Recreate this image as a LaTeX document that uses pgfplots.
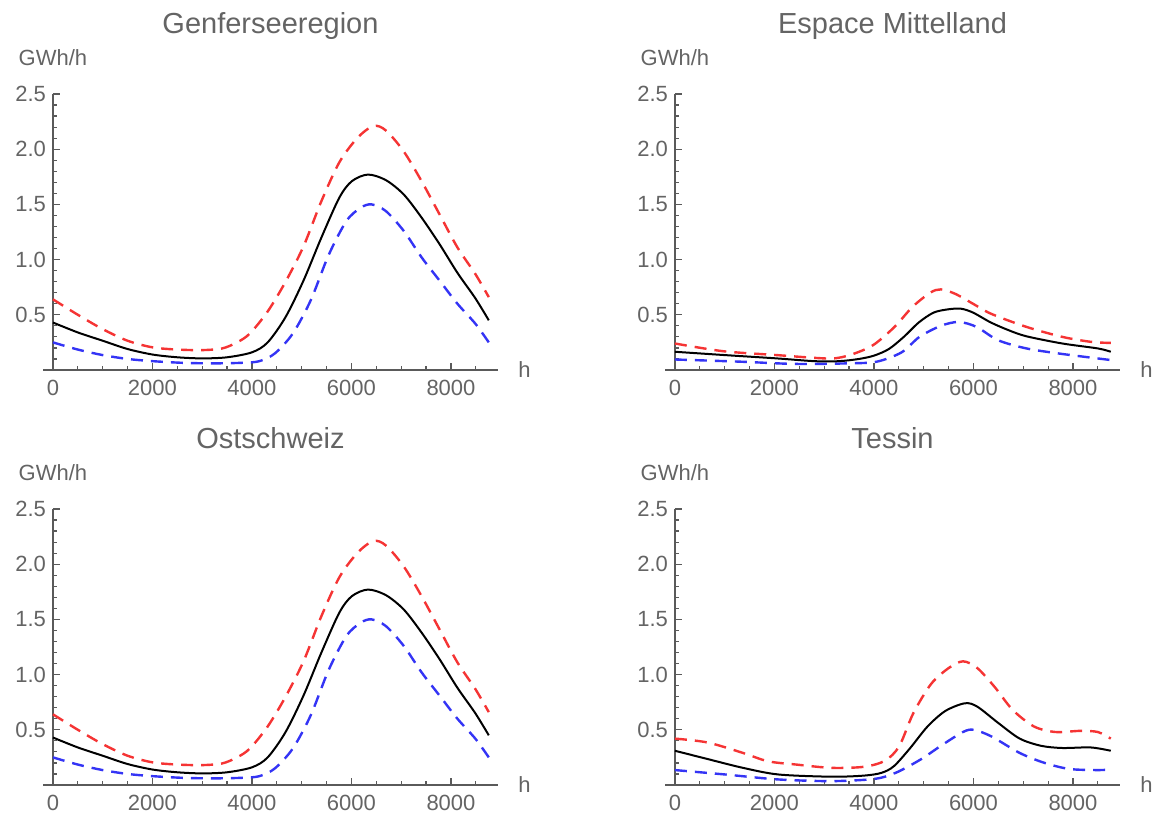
\documentclass[border=0pt]{standalone}
\usepackage{fontspec}
\setmainfont{Liberation Sans}
\usepackage{pgfplots}
\usepackage{pgfplotstable}
\pgfplotsset{compat=1.18}

\definecolor{txt}{HTML}{646464}
\definecolor{axln}{HTML}{5A5A5A}
\definecolor{cred}{HTML}{F53434}
\definecolor{cblue}{HTML}{3434F5}

% Genferseeregion (Ostschweiz looks the same)
\pgfplotstableread{
h v
0 0.43
500 0.34
1000 0.265
1500 0.19
2000 0.14
2500 0.115
3000 0.105
3500 0.115
4000 0.16
4316 0.25
4676 0.48
5036 0.81
5396 1.20
5755 1.56
6007 1.71
6331 1.77
6690 1.72
7050 1.59
7410 1.38
7770 1.14
8130 0.88
8489 0.65
8760 0.45
}\genfmid
\pgfplotstableread{
h v
0 0.64
500 0.50
1000 0.37
1500 0.265
2000 0.205
2500 0.185
3000 0.18
3400 0.195
3700 0.25
3957 0.33
4316 0.53
4676 0.80
5036 1.12
5396 1.53
5755 1.88
6115 2.10
6439 2.21
6690 2.17
7050 1.98
7410 1.71
7770 1.41
8130 1.11
8489 0.87
8760 0.66
}\genfhi
\pgfplotstableread{
h v
0 0.25
500 0.185
1000 0.135
1500 0.10
2000 0.08
2600 0.065
3200 0.06
3800 0.065
4150 0.08
4460 0.15
4820 0.33
5180 0.63
5540 1.04
5899 1.35
6187 1.47
6403 1.50
6690 1.44
7050 1.26
7410 1.02
7770 0.81
8130 0.60
8489 0.42
8760 0.25
}\genflo

% Espace Mittelland
\pgfplotstableread{
h v
0 0.165
1000 0.135
2045 0.105
2800 0.08
3300 0.08
3700 0.10
4000 0.13
4300 0.19
4600 0.30
4900 0.43
5200 0.52
5500 0.55
5750 0.555
5991 0.52
6350 0.43
6708 0.36
7067 0.305
7785 0.24
8502 0.195
8760 0.165
}\mittmid
\pgfplotstableread{
h v
0 0.24
969 0.17
2045 0.135
2800 0.11
3200 0.105
3550 0.14
3982 0.225
4413 0.39
4771 0.57
5130 0.70
5345 0.73
5632 0.69
5991 0.60
6350 0.51
7067 0.39
7785 0.30
8359 0.255
8760 0.245
}\mitthi
\pgfplotstableread{
h v
0 0.095
1327 0.075
2404 0.055
3480 0.06
4054 0.075
4556 0.16
4915 0.30
5345 0.40
5704 0.435
6063 0.39
6493 0.27
7067 0.195
7785 0.145
8760 0.09
}\mittlo

% Tessin
\pgfplotstableread{
h v
0 0.31
700 0.23
1369 0.155
2082 0.095
3151 0.075
3800 0.085
4150 0.11
4400 0.17
4720 0.33
5077 0.53
5433 0.67
5825 0.74
6075 0.71
6503 0.56
6930 0.42
7358 0.355
7786 0.335
8356 0.34
8760 0.31
}\tesmid
\pgfplotstableread{
h v
0 0.42
656 0.385
1369 0.29
1868 0.215
2438 0.185
3151 0.155
3800 0.165
4221 0.22
4506 0.35
4791 0.65
5148 0.915
5504 1.06
5790 1.12
6075 1.06
6431 0.885
6788 0.68
7216 0.53
7643 0.48
8142 0.49
8499 0.48
8760 0.42
}\teshi
\pgfplotstableread{
h v
0 0.135
1012 0.095
2082 0.05
3151 0.035
4007 0.055
4435 0.11
4934 0.23
5362 0.36
5790 0.48
6004 0.50
6360 0.44
6930 0.29
7429 0.20
7928 0.145
8499 0.135
8760 0.14
}\teslo

\pgfplotsset{
  panel/.style={
    scale only axis, width=227.5pt, height=138pt,
    xmin=-200, xmax=8945, ymin=0, ymax=2.5,
    axis lines=middle,
    axis line style={-, draw=axln, line width=0.75pt},
    clip=false,
    hide obscured x ticks=false, hide obscured y ticks=false,
    xtick={0,2000,4000,6000,8000},
    xticklabels={0,2000,4000,6000,8000},
    minor xtick={500,1000,1500,2500,3000,3500,4500,5000,5500,6500,7000,7500,8500},
    ytick={0,0.5,1,1.5,2,2.5},
    yticklabels={,0.5,1.0,1.5,2.0,2.5},
    minor ytick={0.1,0.2,0.3,0.4,0.6,0.7,0.8,0.9,1.1,1.2,1.3,1.4,1.6,1.7,1.8,1.9,2.1,2.2,2.3,2.4},
    tick align=inside,
    major tick length=3.5pt, minor tick length=2pt,
    every tick/.style={draw=axln, line width=0.6pt},
    tick label style={font=\fontsize{11}{13}\selectfont, text=txt},
    xticklabel style={yshift=-1.3pt},
    xlabel={h}, ylabel={},
    xlabel style={at={(rel axis cs:1,0)}, anchor=west, inner sep=0pt, xshift=10pt,
      font=\fontsize{11}{13}\selectfont, text=txt},
  },
  mid/.style={black, line width=1pt, smooth},
  hi/.style={cred, line width=1.2pt, dash pattern=on 6pt off 4pt, smooth},
  lo/.style={cblue, line width=1.2pt, dash pattern=on 6pt off 4pt, smooth},
}

\newcommand{\paneltext}[1]{%
  \node[anchor=base, inner sep=0pt, text=txt, font=\fontsize{14.5}{16}\selectfont]
    at (rel axis cs:0.5,1) [yshift=30pt] {#1};
  \node[anchor=base, inner sep=0pt, text=txt, font=\fontsize{11}{13}\selectfont]
    at (axis cs:0,2.5) [yshift=14pt] {GWh/h};
}

\begin{document}
\begin{tikzpicture}
\path[use as bounding box] (0,0) rectangle (576.5pt,408.5pt);

\begin{axis}[panel, at={(21.5pt,223.5pt)}, anchor=south west]
\addplot[hi] table[x=h, y=v] {\genfhi};
\addplot[lo] table[x=h, y=v] {\genflo};
\addplot[mid] table[x=h, y=v] {\genfmid};
\paneltext{Genferseeregion}
\end{axis}

\begin{axis}[panel, at={(332.5pt,223.5pt)}, anchor=south west]
\addplot[hi] table[x=h, y=v] {\mitthi};
\addplot[lo] table[x=h, y=v] {\mittlo};
\addplot[mid] table[x=h, y=v] {\mittmid};
\paneltext{Espace Mittelland}
\end{axis}

\begin{axis}[panel, at={(21.5pt,16pt)}, anchor=south west]
\addplot[hi] table[x=h, y=v] {\genfhi};
\addplot[lo] table[x=h, y=v] {\genflo};
\addplot[mid] table[x=h, y=v] {\genfmid};
\paneltext{Ostschweiz}
\end{axis}

\begin{axis}[panel, at={(332.5pt,16pt)}, anchor=south west]
\addplot[hi] table[x=h, y=v] {\teshi};
\addplot[lo] table[x=h, y=v] {\teslo};
\addplot[mid] table[x=h, y=v] {\tesmid};
\paneltext{Tessin}
\end{axis}
\end{tikzpicture}
\end{document}
